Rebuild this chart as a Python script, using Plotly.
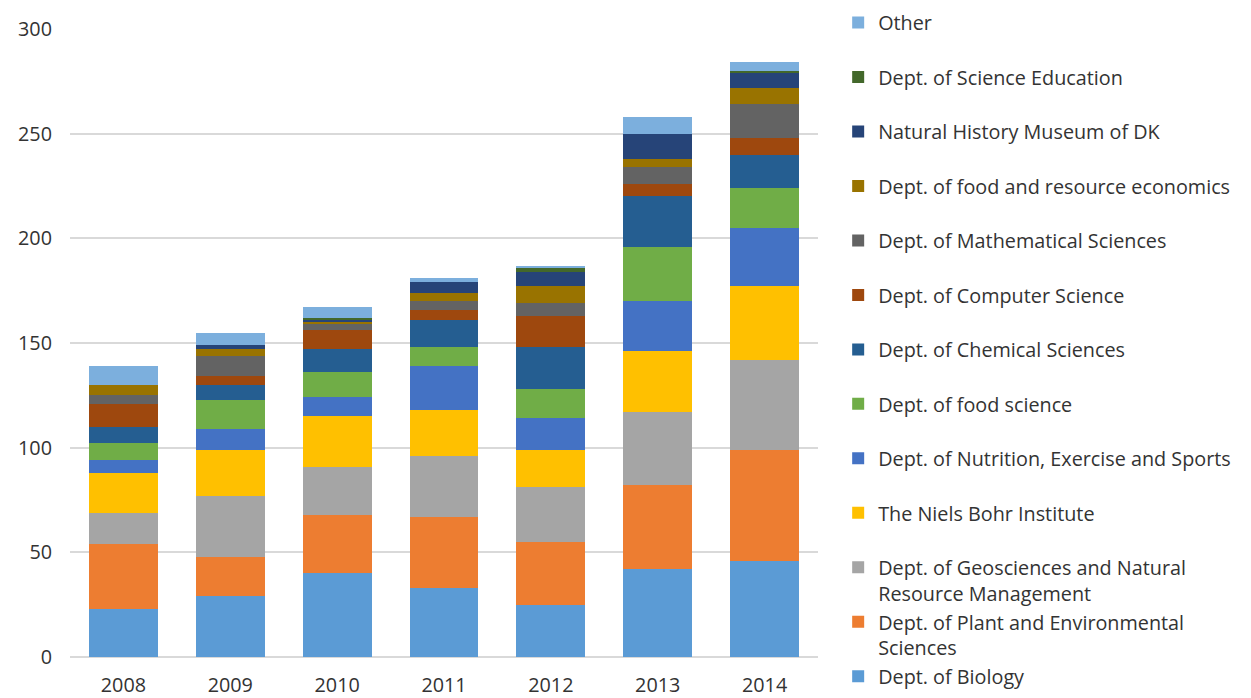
import plotly.graph_objects as go

years = ["2008", "2009", "2010", "2011", "2012", "2013", "2014"]

# Departments, bottom of the stack first
departments = [
    "Dept. of Biology",
    "Dept. of Plant and Environmental<br>Sciences",
    "Dept. of Geosciences and Natural<br>Resource Management",
    "The Niels Bohr Institute",
    "Dept. of Nutrition, Exercise and Sports",
    "Dept. of food science",
    "Dept. of Chemical Sciences",
    "Dept. of Computer Science",
    "Dept. of Mathematical Sciences",
    "Dept. of food and resource economics",
    "Natural History Museum of DK",
    "Dept. of Science Education",
    "Other",
]

biology = [23, 29, 40, 33, 25, 42, 46]
plant_env = [31, 19, 28, 34, 30, 40, 53]
geosciences = [15, 29, 23, 29, 26, 35, 43]
niels_bohr = [19, 22, 24, 22, 18, 29, 35]
nutrition = [6, 10, 9, 21, 15, 24, 28]
food_science = [8, 14, 12, 9, 14, 26, 19]
chemistry = [8, 7, 11, 13, 20, 24, 16]
computer_science = [11, 4, 9, 5, 15, 6, 8]
mathematics = [4, 10, 3, 4, 6, 8, 16]
food_economics = [5, 3, 1, 4, 8, 4, 8]
natural_history = [0, 2, 1, 5, 7, 12, 7]
science_education = [0, 0, 1, 0, 2, 0, 1]
other = [9, 6, 5, 2, 1, 8, 4]

series = [
    biology, plant_env, geosciences, niels_bohr, nutrition, food_science,
    chemistry, computer_science, mathematics, food_economics,
    natural_history, science_education, other,
]

colors = [
    "#5B9BD5", "#ED7D31", "#A5A5A5", "#FFC000", "#4472C4", "#70AD47",
    "#255E91", "#9E480E", "#636363", "#997300", "#264478", "#43682B",
    "#7CAFDD",
]

FONT = "'Open Sans', Lato, sans-serif"
TEXT = "#333333"
FONT_SIZE = 19.8

fig = go.Figure()
for i, (name, values, color) in enumerate(zip(departments, series, colors)):
    # legend entries above the bottom one take two text lines so the
    # entries are evenly spaced down the right-hand side
    label = name if ("<br>" in name or i == 0) else name + "<br>&nbsp;"
    fig.add_trace(go.Bar(
        x=years, y=values, name=label,
        marker=dict(color=color, line=dict(width=0)),
    ))

legend = dict(
    traceorder="reversed",
    xref="container", yref="container",
    x=0.6700, xanchor="left",
    y=0.9955, yanchor="top",
    valign="top",
    font=dict(family=FONT, size=FONT_SIZE, color=TEXT),
    bgcolor="rgba(0,0,0,0)",
    borderwidth=0,
)

fig.update_layout(
    barmode="stack",
    bargap=0.355,
    width=1251, height=698,
    margin=dict(l=70, r=433, t=29, b=41, autoexpand=False),
    plot_bgcolor="white", paper_bgcolor="white",
    font=dict(family=FONT, size=FONT_SIZE, color=TEXT),
    legend=legend,
    showlegend=True,
)
try:
    fig.update_layout(legend_maxheight=1.0)
except ValueError:
    pass

fig.update_xaxes(
    showgrid=False, showline=False, ticks="",
    tickfont=dict(size=FONT_SIZE, color=TEXT),
    ticklabelstandoff=14,
)
fig.update_yaxes(
    range=[0, 300], dtick=50,
    showgrid=True, gridcolor="#D9D9D9", gridwidth=1.5,
    zeroline=True, zerolinecolor="#D9D9D9", zerolinewidth=1.5,
    ticks="", tickfont=dict(size=FONT_SIZE, color=TEXT),
    ticklabelstandoff=17,
)

fig.write_html("out.html")
